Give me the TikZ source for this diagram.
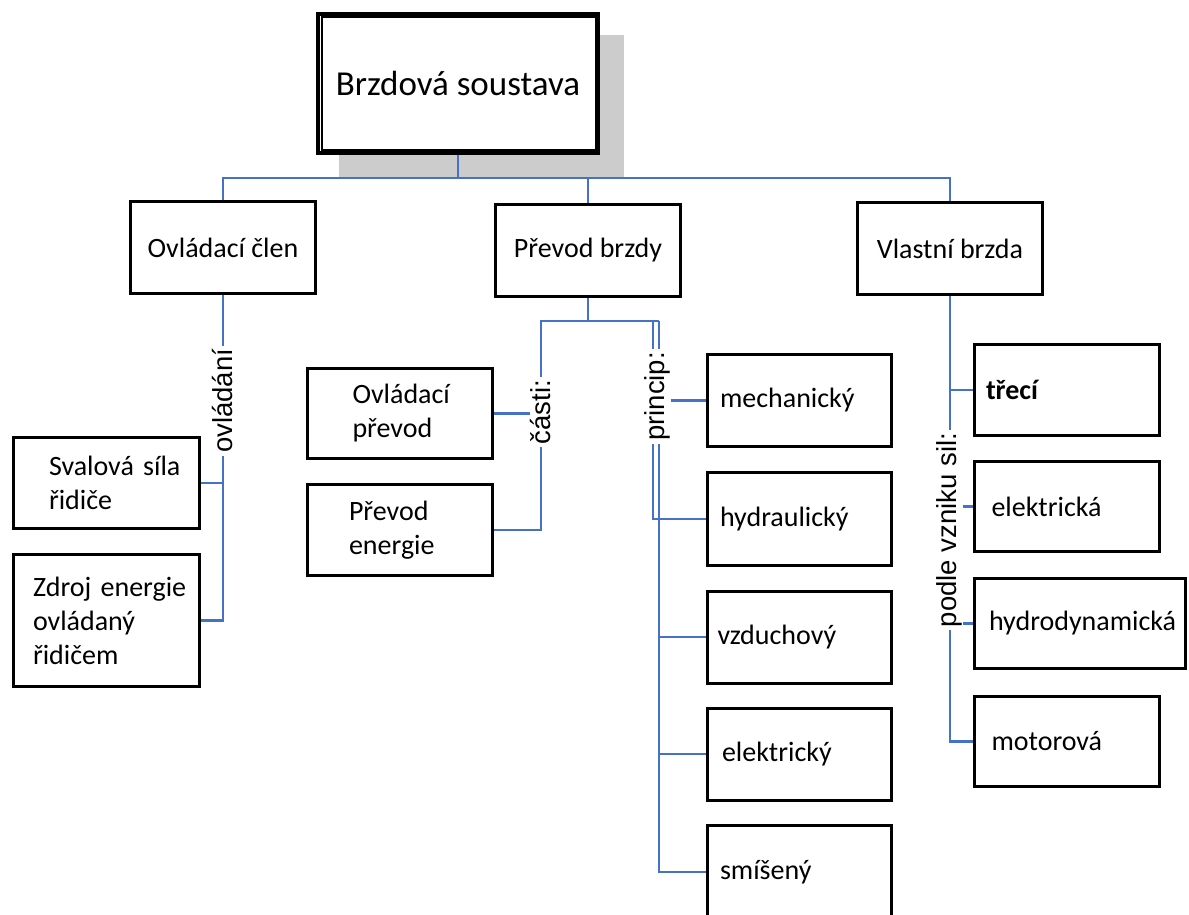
\documentclass[tikz,border=0pt]{standalone}
\usepackage{fontspec}
\setmainfont{Carlito}
\newfontfamily\arialfam{Liberation Sans}
\hfuzz=300pt
\hbadness=10000
\definecolor{lineblue}{RGB}{68,114,196}
\definecolor{shadowgray}{RGB}{204,204,204}
\newcommand\boxfont{\fontsize{28}{34}\selectfont}
\newcommand\titlefont{\fontsize{35}{40}\selectfont}
\newcommand\labfont{\arialfam\fontsize{27.5}{30}\selectfont}
\begin{document}
\begin{tikzpicture}[x=1pt,y=-1pt,
  box/.style={draw, line width=3pt, fill=white, font=\boxfont, inner sep=2pt, minimum width=185, minimum height=92},
  lbox/.style={draw, line width=3pt, fill=white, font=\boxfont, align=left, inner ysep=2pt, minimum width=185, minimum height=92},
  conn/.style={draw=lineblue, line width=2.8pt},
  lab/.style={font=\labfont, fill=white, rotate=90, inner xsep=3pt, inner ysep=1pt}]
\useasboundingbox (0,0) rectangle (1189,915);

% shadow of the title box
\fill[shadowgray] (339,35) rectangle (624,178);

% title box
\node[draw, line width=4pt, fill=white, minimum width=280, minimum height=138.5, inner sep=0pt, font=\titlefont] (top) at (458,83.75) {Brzdová soustava};
\draw[line width=2pt] ([shift={(5.5,5)}]top.north west) rectangle ([shift={(-4,-5)}]top.south east);

% level 2
\node[box] (ovc) at (223,247.5) {Ovládací člen};
\node[box] (pb) at (588,250) {Převod brzdy};
\node[box] (vb) at (950,248.5) {Vlastní brzda};

% left branch
\node[lbox, minimum width=186, minimum height=91, text width=115pt, inner xsep=35.5pt] (sval) at (106.5,483) {\mbox{Svalová síla}\\\mbox{řidiče}};
\node[lbox, minimum width=186, minimum height=132, text width=147pt, inner xsep=19.5pt] (zdroj) at (106.5,620.5) {\mbox{Zdroj energie}\\\mbox{ovládaný}\\\mbox{řidičem}};

% middle branch
\node[lbox, minimum height=90, text width=95pt, inner xsep=45pt] (ovpr) at (400,413.5) {\mbox{Ovládací}\\\mbox{převod}};
\node[lbox, minimum height=91, text width=102pt, inner xsep=41.5pt] (pen) at (400,530) {\mbox{Převod}\\\mbox{energie}};

\node[lbox, minimum width=184, text width=159pt, inner xsep=12.5pt] (mech) at (799.5,400.5) {mechanický};
\node[lbox, minimum width=184, minimum height=93, text width=159pt, inner xsep=12.5pt] (hydr) at (799.5,519) {hydraulický};
\node[lbox, minimum width=184, text width=163pt, inner xsep=10.5pt] (vzd) at (799,637) {vzduchový};
\node[lbox, minimum width=184, text width=155pt, inner xsep=14.5pt] (elky) at (799.5,754) {elektrický};
\node[lbox, minimum width=184, minimum height=94, text width=159pt, inner xsep=12.5pt] (smis) at (799.5,872) {smíšený};

% right branch
\node[lbox, minimum height=91, text width=162pt, inner xsep=11.5pt] (trec) at (1067,390) {\bfseries třecí};
\node[lbox, minimum height=90, text width=151pt, inner xsep=17pt] (elka) at (1067,506.5) {elektrická};
\node[lbox, minimum width=211, minimum height=90, text width=182pt, inner xsep=14.5pt] (hydro) at (1080,623.5) {\mbox{hydrodynamická}};
\node[lbox, minimum height=90, text width=151pt, inner xsep=17pt] (mot) at (1067,741.5) {motorová};

% junction coordinates
\coordinate (j0) at (458,178);
\coordinate (j1) at (588,321);
\coordinate (cx) at (541,321);
\coordinate (pa) at (653,321);
\coordinate (pc) at (659,321);

% connectors
\draw[conn] (top.south) -- (j0);
\draw[conn] (ovc.north) |- (j0) -| (vb.north);
\draw[conn] (pb.north) -- (pb.north |- j0);

\draw[conn] (ovc.south) |- (zdroj.east);
\draw[conn] (sval.east) -- (sval.east -| ovc.south);

\draw[conn] (pb.south) -- (j1);
\draw[conn] (pc) -- (cx) |- (pen.east);
\draw[conn] (ovpr.east) -- (ovpr.east -| cx);
\draw[conn, line width=2.2pt] (pa) |- (hydr.west);
\draw[conn, line width=2.2pt] (pc) |- (smis.west);
\draw[conn] (mech.west -| pc) -- (mech.west);
\draw[conn] (vzd.west -| pc) -- (vzd.west);
\draw[conn] (elky.west -| pc) -- (elky.west);

\draw[conn] (vb.south) |- (mot.west);
\draw[conn] (trec.west -| vb.south) -- (trec.west);
\draw[conn] (elka.west -| vb.south) -- (elka.west);
\draw[conn] (hydro.west -| vb.south) -- (hydro.west);

% connector labels
\node[lab] (lovl) at (223,401) {ovládání};
\node[lab] (lcas) at (541,412) {části:};
\node[lab] (lpri) at (657,396.5) {princip:};
\node[lab] (lpod) at (949,530) {podle vzniku sil:};
\end{tikzpicture}
\end{document}
